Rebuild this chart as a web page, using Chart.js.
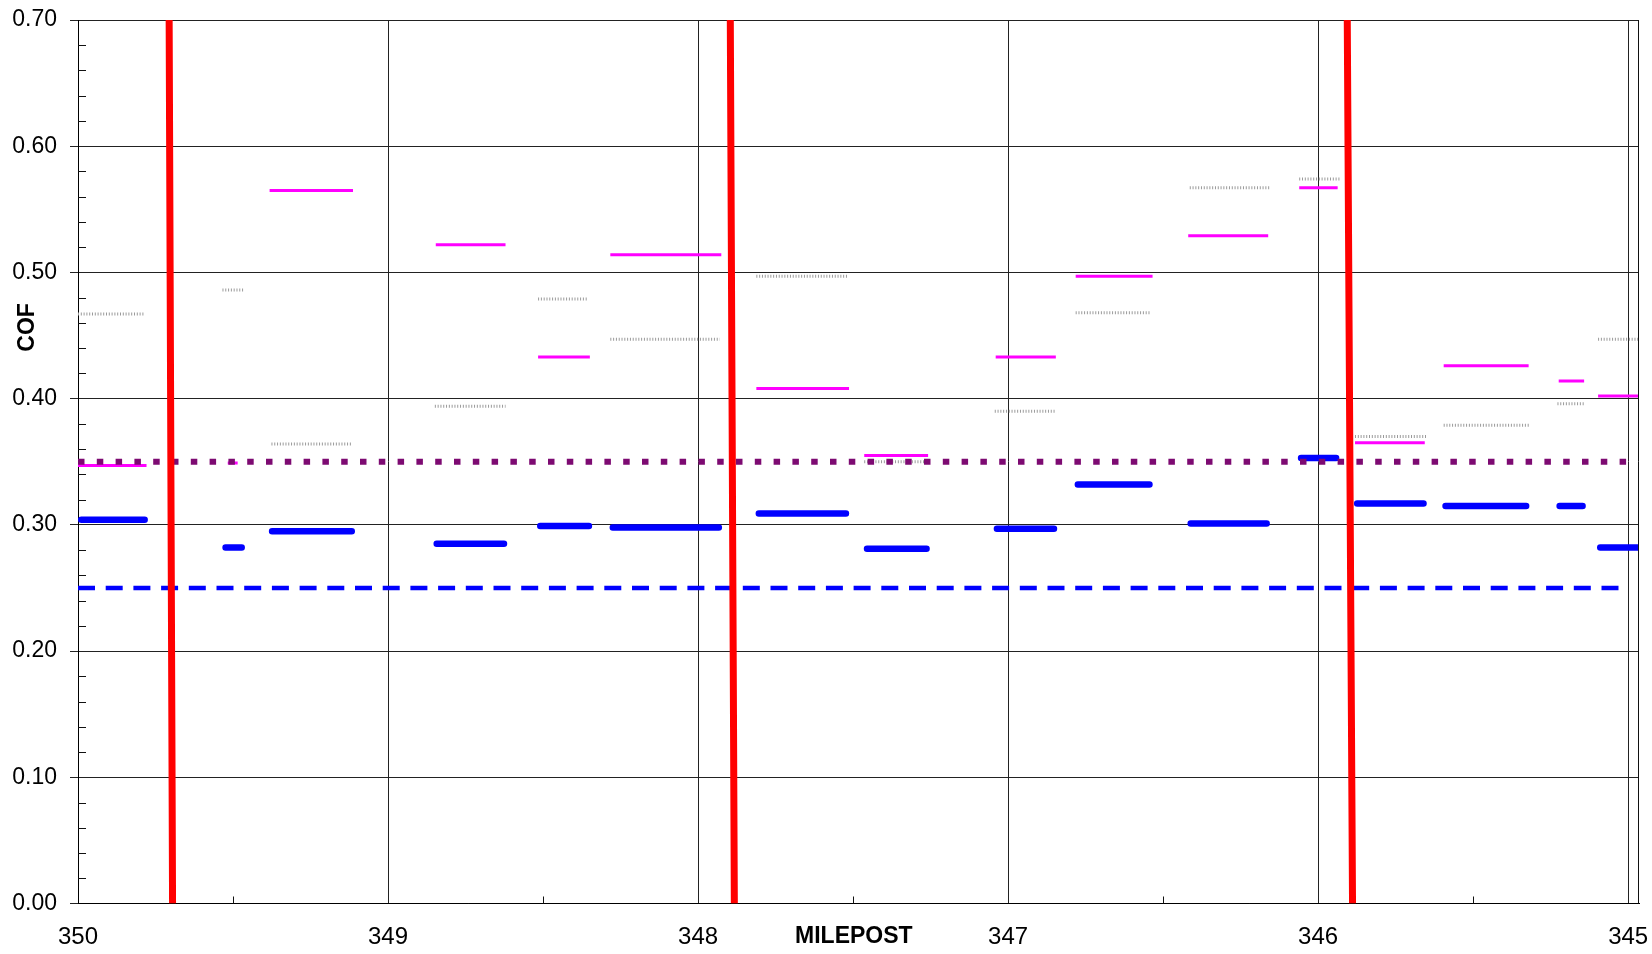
<!DOCTYPE html>
<html>
<head>
<meta charset="utf-8">
<title>COF by Milepost</title>
<script src="https://cdn.jsdelivr.net/npm/chart.js@4/dist/chart.umd.min.js"></script>
<style>
  html, body { margin: 0; padding: 0; background: #fff; }
  canvas { display: block; }
</style>
</head>
<body>
<canvas id="cof" width="1652" height="954"></canvas>
<script>
// Axis ticks
const mileTicks = [350, 349, 348, 347, 346, 345];
const mileMinor = [349.5, 348.5, 347.5, 346.5, 345.5];
const cofTicks = [0, 0.1, 0.2, 0.3, 0.4, 0.5, 0.6, 0.7];
const xTitle = 'MILEPOST';
const yTitle = 'COF';

// Blue test sections (start milepost, end milepost, COF)
const blueStart = [349.99, 349.524, 349.374, 348.843, 348.509, 348.275, 347.804, 347.455, 347.036, 346.775, 346.411, 346.055, 345.874, 345.589, 345.221, 345.090];
const blueEnd   = [349.785, 349.472, 349.117, 348.626, 348.352, 347.933, 347.523, 347.263, 346.852, 346.544, 346.166, 345.942, 345.660, 345.329, 345.147, 344.965];
const blueCOF   = [0.304, 0.282, 0.295, 0.285, 0.299, 0.298, 0.309, 0.281, 0.297, 0.332, 0.301, 0.353, 0.317, 0.315, 0.315, 0.282];

// Magenta sections
const magStart = [350, 349.517, 349.382, 348.846, 348.516, 348.283, 347.812, 347.464, 347.040, 346.782, 346.419, 346.061, 345.881, 345.595, 345.224, 345.097];
const magEnd   = [349.779, 349.485, 349.113, 348.621, 348.349, 347.925, 347.513, 347.258, 346.846, 346.534, 346.161, 345.937, 345.656, 345.321, 345.142, 344.965];
const magCOF   = [0.347, 0.349, 0.565, 0.522, 0.433, 0.514, 0.408, 0.355, 0.433, 0.497, 0.529, 0.567, 0.365, 0.426, 0.414, 0.402];

// Gray dotted sections
const grayStart = [350, 349.534, 349.376, 348.849, 348.516, 348.283, 347.812, 347.464, 347.043, 346.782, 346.414, 346.061, 345.881, 345.595, 345.228, 345.097];
const grayEnd   = [349.785, 349.465, 349.116, 348.621, 348.357, 347.930, 347.516, 347.258, 346.846, 346.543, 346.153, 345.930, 345.650, 345.317, 345.140, 344.965];
const grayCOF   = [0.467, 0.486, 0.364, 0.394, 0.479, 0.447, 0.497, 0.350, 0.390, 0.468, 0.567, 0.574, 0.370, 0.379, 0.396, 0.447];

// Red markers (milepost at top and bottom of the plot)
const redTop    = [349.706, 347.896, 345.906];
const redBottom = [349.695, 347.883, 345.889];

// Reference levels
const purpleLevel = 0.35;
const blueLevel = 0.25;
const levelFrom = 350;
const levelTo = 345;

function segments(starts, ends, vals) {
  const pts = [];
  starts.forEach((s, i) => {
    pts.push({ x: s, y: vals[i] }, { x: ends[i], y: vals[i] }, { x: ends[i], y: null });
  });
  return pts;
}

function markers(tops, bottoms) {
  const pts = [];
  tops.forEach((t, i) => {
    pts.push({ x: t, y: 0.7 }, { x: bottoms[i], y: 0 }, { x: bottoms[i], y: null });
  });
  return pts;
}

const FONT = '"Liberation Sans", Arial, Helvetica, sans-serif';

function noScalePadding(s) {
  s.paddingLeft = 0;
  s.paddingRight = 0;
  s.paddingTop = 0;
  s.paddingBottom = 0;
}

// Minor ticks, plot frame and axis titles
const decor = {
  id: 'decor',
  afterDraw(chart) {
    const { ctx, chartArea: a, scales: { x, y } } = chart;
    ctx.save();
    ctx.strokeStyle = '#111';
    ctx.lineWidth = 1;
    ctx.beginPath();
    for (let i = 1; i < 35; i++) {
      if (i % 5 === 0) continue;
      const py = Math.round(y.getPixelForValue(i * 0.02)) + 0.5;
      ctx.moveTo(a.left, py);
      ctx.lineTo(a.left + 8, py);
    }
    mileMinor.forEach(m => {
      const px = Math.round(x.getPixelForValue(m)) + 0.5;
      ctx.moveTo(px, a.bottom);
      ctx.lineTo(px, a.bottom - 7);
    });
    const rx = Math.round(a.right) - 0.5;
    ctx.moveTo(rx, a.top);
    ctx.lineTo(rx, a.bottom);
    ctx.stroke();

    ctx.fillStyle = '#000';
    ctx.font = 'bold 23px ' + FONT;
    ctx.textAlign = 'center';
    ctx.textBaseline = 'middle';
    ctx.fillText(xTitle, a.left + (a.right - a.left) * 0.497, 937);
    ctx.translate(28, a.top + (a.bottom - a.top) * 0.348);
    ctx.rotate(-Math.PI / 2);
    ctx.fillText(yTitle, 0, 0);
    ctx.restore();
  }
};

new Chart(document.getElementById('cof'), {
  type: 'line',
  data: {
    datasets: [
      {
        data: markers(redTop, redBottom),
        borderColor: '#ff0000', borderWidth: 7, order: 1, clip: 0
      },
      {
        data: [{ x: levelFrom, y: blueLevel }, { x: levelTo, y: blueLevel }],
        borderColor: '#0000ff', borderWidth: 4.5, borderDash: [17, 10.7], order: 2, clip: 0
      },
      {
        data: [{ x: levelFrom, y: purpleLevel }, { x: levelTo, y: purpleLevel }],
        borderColor: '#7d0a72', borderWidth: 6, borderDash: [6.5, 12.3], order: 3, clip: 0
      },
      {
        data: segments(blueStart, blueEnd, blueCOF),
        borderColor: '#0000ff', borderWidth: 6.5, borderCapStyle: 'round', order: 4, clip: 0
      },
      {
        data: segments(magStart, magEnd, magCOF),
        borderColor: '#ff00ff', borderWidth: 3, order: 5, clip: 0
      },
      {
        data: segments(grayStart, grayEnd, grayCOF),
        borderColor: '#9a9a9a', borderWidth: 3, borderDash: [1, 1.8], order: 6, clip: 0
      }
    ]
  },
  options: {
    responsive: false,
    animation: false,
    events: [],
    spanGaps: false,
    elements: { point: { radius: 0 }, line: { tension: 0 } },
    layout: { padding: { top: 20, right: 13, left: 0, bottom: 0 } },
    plugins: { legend: { display: false }, tooltip: { enabled: false }, title: { display: false } },
    scales: {
      x: {
        type: 'linear',
        reverse: true,
        min: 344.965,
        max: 350,
        afterBuildTicks: s => { s.ticks = mileTicks.map(v => ({ value: v })); },
        afterFit: s => { s.height = 50.5; noScalePadding(s); },
        grid: { color: '#222', lineWidth: 1, drawTicks: false },
        border: { display: true, color: '#000', width: 1 },
        ticks: {
          color: '#000', font: { family: FONT, size: 24 }, padding: 19,
          maxRotation: 0, autoSkip: false,
          callback: v => String(v)
        }
      },
      y: {
        type: 'linear',
        min: 0,
        max: 0.7,
        afterBuildTicks: s => { s.ticks = cofTicks.map(v => ({ value: v })); },
        afterFit: s => { s.width = 78; noScalePadding(s); },
        grid: { color: '#222', lineWidth: 1, drawTicks: true, tickLength: 8 },
        border: { display: true, color: '#000', width: 1 },
        ticks: {
          color: '#000', font: { family: FONT, size: 23 }, padding: 13,
          callback: v => Number(v).toFixed(2)
        }
      }
    }
  },
  plugins: [decor]
});
</script>
</body>
</html>
